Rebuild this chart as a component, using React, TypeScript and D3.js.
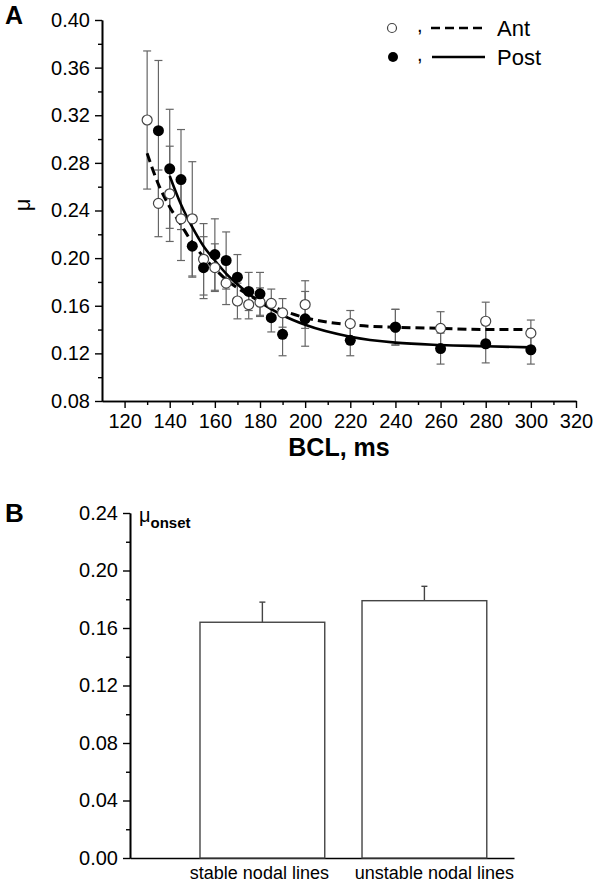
import React, { useEffect, useRef } from "react";
import * as d3 from "d3";

// panel A: restitution of mu vs BCL, anterior (open) and posterior (filled)
const antBcl = [130, 135, 140, 145, 150, 155, 160, 165, 170, 175, 180, 185, 190, 200, 220, 240, 260, 280, 300];
const antMu = [0.316, 0.246, 0.254, 0.233, 0.233, 0.199, 0.192, 0.179, 0.164, 0.161, 0.163, 0.162, 0.154, 0.161, 0.145, 0.142, 0.141, 0.147, 0.137];
const antErr = [0.058, 0.028, 0.04, 0.035, 0.048, 0.03, 0.02, 0.018, 0.015, 0.012, 0.012, 0.012, 0.012, 0.02, 0.011, 0.015, 0.014, 0.016, 0.011];

const postBcl = [135, 140, 145, 150, 155, 160, 165, 170, 175, 180, 185, 190, 200, 220, 240, 260, 280, 300];
const postMu = [0.307, 0.275, 0.266, 0.21, 0.192, 0.203, 0.198, 0.184, 0.172, 0.17, 0.15, 0.136, 0.149, 0.131, 0.142, 0.124, 0.128, 0.123];
const postErr = [0.059, 0.05, 0.042, 0.026, 0.026, 0.03, 0.024, 0.019, 0.016, 0.018, 0.012, 0.018, 0.023, 0.013, 0.015, 0.013, 0.016, 0.012];

// fitted curves
const antFitBcl = [130, 135, 140, 145, 150, 155, 160, 165, 170, 180, 190, 200, 220, 240, 260, 280, 300];
const antFitMu = [0.288, 0.262, 0.243, 0.228, 0.213, 0.201, 0.191, 0.182, 0.175, 0.164, 0.156, 0.15, 0.144, 0.142, 0.141, 0.14, 0.14];
const postFitBcl = [140, 145, 150, 155, 160, 165, 170, 180, 190, 200, 220, 240, 260, 280, 300];
const postFitMu = [0.269, 0.245, 0.226, 0.21, 0.198, 0.187, 0.178, 0.163, 0.152, 0.144, 0.134, 0.129, 0.127, 0.126, 0.125];

const xTicksA = [120, 140, 160, 180, 200, 220, 240, 260, 280, 300, 320];
const xMinorA = [130, 150, 170, 190, 210, 230, 250, 270, 290, 310];
const yTicksA = [0.08, 0.12, 0.16, 0.2, 0.24, 0.28, 0.32, 0.36, 0.4];
const yMinorA = [0.1, 0.14, 0.18, 0.22, 0.26, 0.3, 0.34, 0.38];

// panel B: mu at onset
const barLabels = ["stable nodal lines", "unstable nodal lines"];
const barMu = [0.164, 0.179];
const barErr = [0.014, 0.01];
const yTicksB = [0, 0.04, 0.08, 0.12, 0.16, 0.2, 0.24];
const yMinorB = [0.02, 0.06, 0.1, 0.14, 0.18, 0.22];

const FONT = "'Liberation Sans', Arial, sans-serif";

export default function App() {
  const svgRef = useRef<SVGSVGElement>(null);

  useEffect(() => {
    document.body.style.margin = "0";
    const svg = d3.select(svgRef.current);
    svg.selectAll("*").remove();
    svg.style("font-family", FONT);

    const fmt = d3.format(".2f");

    // ---------- panel A ----------
    const x = d3.scaleLinear().domain([110, 320]).range([102, 576]);
    const y = d3.scaleLinear().domain([0.08, 0.4]).range([401, 20]);

    const styleAxis = (g: any) => {
      g.select(".domain").attr("stroke", "#000").attr("stroke-width", 1.6);
      g.selectAll(".tick line").attr("stroke", "#000").attr("stroke-width", 1.4);
      g.selectAll("text").attr("font-size", 20).attr("font-family", FONT).attr("fill", "#000");
    };

    svg.append("g")
      .attr("transform", "translate(0,401)")
      .call(d3.axisBottom(x).tickValues(xMinorA).tickSize(4).tickFormat(() => "").tickSizeOuter(0))
      .call(styleAxis);
    svg.append("g")
      .attr("transform", "translate(0,401)")
      .call(d3.axisBottom(x).tickValues(xTicksA).tickSize(7).tickPadding(6).tickSizeOuter(0))
      .call(styleAxis);
    svg.append("g")
      .attr("transform", "translate(102,0)")
      .call(d3.axisLeft(y).tickValues(yMinorA).tickSize(4).tickFormat(() => "").tickSizeOuter(0))
      .call(styleAxis);
    svg.append("g")
      .attr("transform", "translate(102,0)")
      .call(d3.axisLeft(y).tickValues(yTicksA).tickSize(7).tickPadding(5).tickFormat((d: any) => fmt(d)).tickSizeOuter(0))
      .call(styleAxis);

    const errColor = "#666";
    const drawErr = (xs: number[], ms: number[], es: number[]) => {
      const g = svg.append("g").attr("stroke", errColor).attr("stroke-width", 1.2);
      xs.forEach((b, i) => {
        const cx = x(b);
        const top = y(ms[i] + es[i]);
        const bot = y(ms[i] - es[i]);
        g.append("line").attr("x1", cx).attr("x2", cx).attr("y1", top).attr("y2", bot);
        g.append("line").attr("x1", cx - 4).attr("x2", cx + 4).attr("y1", top).attr("y2", top);
        g.append("line").attr("x1", cx - 4).attr("x2", cx + 4).attr("y1", bot).attr("y2", bot);
      });
    };
    drawErr(antBcl, antMu, antErr);
    drawErr(postBcl, postMu, postErr);

    const line = d3.line<number>().curve(d3.curveMonotoneX);
    svg.append("path")
      .attr("d", line.x((d) => x(d)).y((d, i) => y(antFitMu[i]))(antFitBcl))
      .attr("fill", "none")
      .attr("stroke", "#000")
      .attr("stroke-width", 3)
      .attr("stroke-dasharray", "9,5");
    svg.append("path")
      .attr("d", line.x((d) => x(d)).y((d, i) => y(postFitMu[i]))(postFitBcl))
      .attr("fill", "none")
      .attr("stroke", "#000")
      .attr("stroke-width", 2.6);

    svg.append("g")
      .selectAll("circle")
      .data(antBcl)
      .join("circle")
      .attr("cx", (d) => x(d))
      .attr("cy", (d, i) => y(antMu[i]))
      .attr("r", 5)
      .attr("fill", "#fff")
      .attr("stroke", "#444")
      .attr("stroke-width", 1.2);
    svg.append("g")
      .selectAll("circle")
      .data(postBcl)
      .join("circle")
      .attr("cx", (d) => x(d))
      .attr("cy", (d, i) => y(postMu[i]))
      .attr("r", 5.5)
      .attr("fill", "#000");

    // legend
    const leg = svg.append("g");
    leg.append("circle").attr("cx", 392).attr("cy", 28).attr("r", 4.5).attr("fill", "#fff").attr("stroke", "#444").attr("stroke-width", 1.2);
    leg.append("circle").attr("cx", 393).attr("cy", 57).attr("r", 5).attr("fill", "#000");
    leg.append("text").attr("x", 417).attr("y", 32).attr("font-size", 20).attr("fill", "#000").text(",");
    leg.append("text").attr("x", 417).attr("y", 61).attr("font-size", 20).attr("fill", "#000").text(",");
    leg.append("line").attr("x1", 431).attr("x2", 485).attr("y1", 28).attr("y2", 28)
      .attr("stroke", "#000").attr("stroke-width", 2.6).attr("stroke-dasharray", "9,5");
    leg.append("line").attr("x1", 432).attr("x2", 485).attr("y1", 57).attr("y2", 57)
      .attr("stroke", "#000").attr("stroke-width", 2.6);
    leg.append("text").attr("x", 497).attr("y", 36).attr("font-size", 22).text("Ant");
    leg.append("text").attr("x", 497).attr("y", 65).attr("font-size", 22).text("Post");

    svg.append("text").attr("x", 5).attr("y", 24).attr("font-size", 25).attr("font-weight", "bold").text("A");
    svg.append("text")
      .attr("transform", "translate(30,205) rotate(-90)")
      .attr("text-anchor", "middle")
      .attr("font-size", 22)
      .text("μ");
    svg.append("text")
      .attr("x", 339)
      .attr("y", 456)
      .attr("text-anchor", "middle")
      .attr("font-size", 25)
      .attr("font-weight", "bold")
      .text("BCL, ms");

    // ---------- panel B ----------
    const xb = d3.scaleBand<string>().domain(barLabels).range([130, 514]).paddingInner(0.23).paddingOuter(0.3).align(0.72);
    const yb = d3.scaleLinear().domain([0, 0.24]).range([858, 513]);

    const xAxisB = svg.append("g")
      .attr("transform", "translate(0,858)")
      .call(d3.axisBottom(xb).tickSize(0).tickPadding(8).tickSizeOuter(0))
      .call(styleAxis);
    xAxisB.selectAll("text")
      .attr("font-size", 18)
      .attr("dx", (d: any, i: number) => (i === 0 ? -3 : 10));
    svg.append("g")
      .attr("transform", "translate(130,0)")
      .call(d3.axisLeft(yb).tickValues(yMinorB).tickSize(4).tickFormat(() => "").tickSizeOuter(0))
      .call(styleAxis);
    svg.append("g")
      .attr("transform", "translate(130,0)")
      .call(d3.axisLeft(yb).tickValues(yTicksB).tickSize(7).tickPadding(5).tickFormat((d: any) => fmt(d)).tickSizeOuter(0))
      .call(styleAxis);

    const bars = svg.append("g");
    barLabels.forEach((lab, i) => {
      const bx = xb(lab) as number;
      const cx = bx + xb.bandwidth() / 2;
      bars.append("line")
        .attr("x1", cx).attr("x2", cx)
        .attr("y1", yb(barMu[i])).attr("y2", yb(barMu[i] + barErr[i]))
        .attr("stroke", "#444").attr("stroke-width", 1.4);
      bars.append("line")
        .attr("x1", cx - 3).attr("x2", cx + 3)
        .attr("y1", yb(barMu[i] + barErr[i])).attr("y2", yb(barMu[i] + barErr[i]))
        .attr("stroke", "#444").attr("stroke-width", 1.4);
      bars.append("rect")
        .attr("x", bx)
        .attr("y", yb(barMu[i]))
        .attr("width", xb.bandwidth())
        .attr("height", yb(0) - yb(barMu[i]))
        .attr("fill", "#fff")
        .attr("stroke", "#444")
        .attr("stroke-width", 1.4);
    });

    svg.append("text").attr("x", 5).attr("y", 522).attr("font-size", 26).attr("font-weight", "bold").text("B");
    const yl = svg.append("text").attr("x", 139).attr("y", 522).attr("font-size", 20);
    yl.append("tspan").text("μ");
    yl.append("tspan").attr("dy", 6).attr("font-size", 15).attr("font-weight", "bold").text("onset");
  }, []);

  return (
    <div>
      <svg ref={svgRef} width={600} height={887} style={{ display: "block", background: "#fff" }}></svg>
    </div>
  );
}
